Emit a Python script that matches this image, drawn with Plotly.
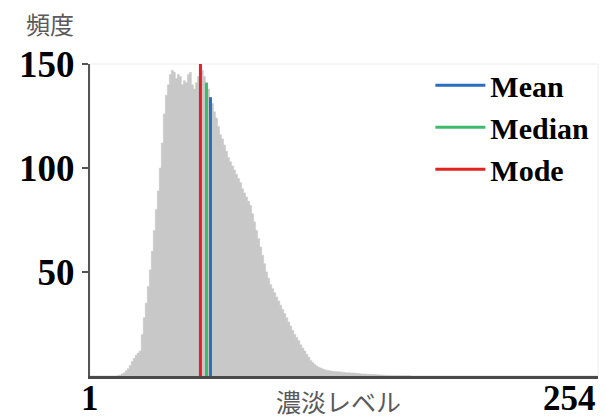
import plotly.graph_objects as go

# Grey-level histogram (levels 1..254) with mean / median / mode markers
levels = list(range(1, 255))

counts = (
    [0] * 14
    + [0.3, 0.5, 1, 1.5, 2.5, 3.5, 5, 7, 8.5, 10, 11, 12,            # 15-26
       20, 28, 35, 43, 51, 60, 70, 80, 89, 100,                     # 27-36
       112, 126, 135, 140, 145, 147, 146, 143, 145, 144,            # 37-46
       140, 142, 141, 145, 146, 140, 138, 141, 144, 150,            # 47-56
       147, 144, 141, 138, 134, 131, 127, 124, 120, 116,            # 57-66
       114, 111, 108, 105, 103, 101, 99, 97, 95, 93,                # 67-76
       90, 88, 86, 84, 82, 78, 74, 70, 66, 62,                      # 77-86
       58, 54, 50, 47, 44, 42, 40, 38, 36, 34,                      # 87-96
       32, 30, 28, 26, 24, 22, 20, 18.5, 17, 15,                    # 97-106
       13.5, 12, 10.5, 9, 7.5, 6.5, 5.5, 4.8, 4.2, 3.8,             # 107-116
       3.4, 3, 2.8, 2.6, 2.4, 2.3, 2.2, 2.1, 2, 1.9,                # 117-126
       1.8, 1.7, 1.6, 1.6, 1.5, 1.5, 1.4, 1.3, 1.2, 1.1,            # 127-136
       1, 1, 0.9, 0.8, 0.8, 0.7, 0.7, 0.6, 0.6, 0.5,                # 137-146
       0.5, 0.4, 0.4, 0.3, 0.3, 0.3, 0.3, 0.2, 0.2, 0.2,            # 147-156
       0.2, 0.2, 0.2, 0.2]                                          # 157-160
)
counts = counts + [0] * (254 - len(counts))

stat_names = ["Mean", "Median", "Mode"]
stat_levels = [61, 59, 56]
stat_colors = ["#2a6ebd", "#3cbb6c", "#e0231d"]

serif_bold = dict(family="Liberation Serif", weight="bold", color="black")
label_font = dict(family="Noto Sans CJK JP", size=25, color="#5a5a5a")

fig = go.Figure()

# histogram drawn as a stepped, filled outline (one step per level)
fig.add_trace(go.Scatter(
    x=levels, y=counts,
    mode="lines", line=dict(color="#c8c8c8", width=0.5, shape="hvh"),
    fill="tozeroy", fillcolor="#c8c8c8",
    showlegend=False, hoverinfo="skip",
))

for name, lvl, col in zip(stat_names, stat_levels, stat_colors):
    fig.add_trace(go.Scatter(
        x=[lvl, lvl], y=[0, counts[lvl - 1]],
        mode="lines", name=name,
        line=dict(color=col, width=3),
        legendgroup=name,
    ))

fig.update_layout(
    width=606, height=419,
    margin=dict(l=90, r=8, t=64, b=43),
    paper_bgcolor="white", plot_bgcolor="white",
    legend=dict(
        x=0.67, y=1.015, xanchor="left", yanchor="top",
        font=dict(size=30, **serif_bold),
        itemwidth=50, tracegroupgap=0,
        bgcolor="rgba(0,0,0,0)",
    ),
    xaxis=dict(
        range=[1, 254], showline=True, linecolor="#4a4a4a", linewidth=3,
        showticklabels=False, ticks="", showgrid=False, zeroline=False,
    ),
    yaxis=dict(
        range=[0, 150], showline=True, linecolor="#555555", linewidth=2,
        ticks="outside", ticklen=6, tickwidth=2, tickcolor="#555555",
        tickvals=[50, 100, 150], tickfont=dict(size=37, **serif_bold),
        showgrid=False, zeroline=False,
    ),
    shapes=[dict(type="rect", xref="paper", yref="paper", x0=0, x1=1, y0=0, y1=1,
                 line=dict(color="#eeeeee", width=1), layer="below")],
)

# x-axis end labels and axis titles
end_font = dict(size=35, **serif_bold)
fig.add_annotation(x=1, y=0, xref="x", yref="paper", yshift=-1, text="1",
                   showarrow=False, xanchor="center", yanchor="top", font=end_font)
fig.add_annotation(x=254, y=0, xref="x", yref="paper", yshift=-1, text="254",
                   showarrow=False, xanchor="right", yanchor="top", font=end_font)
fig.add_annotation(x=0.49, y=0, xref="paper", yref="paper", yshift=-5, text="濃淡レベル",
                   showarrow=False, xanchor="center", yanchor="top", font=label_font)
fig.add_annotation(x=-0.078, y=1.068, xref="paper", yref="paper", text="頻度",
                   showarrow=False, xanchor="center", yanchor="bottom",
                   font=dict(family="Noto Sans CJK JP", size=24, color="#5a5a5a"))

fig.write_html("out.html")
